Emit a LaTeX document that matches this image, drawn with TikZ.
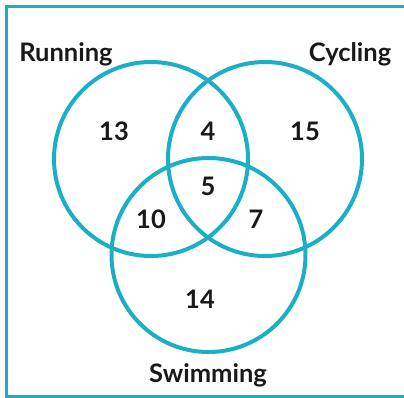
\documentclass[tikz,border=0pt]{standalone}
\usepackage{fontspec}
\setmainfont{Lato}
\usepackage{xcolor}
\usepackage{tikz}
\usetikzlibrary{positioning}

\definecolor{setteal}{HTML}{1AAFC4}

\begin{document}
\begin{tikzpicture}[
    x=1pt, y=-1pt,
    set/.style={circle, draw=setteal, line width=4pt, minimum size=194pt, inner sep=0pt},
    setname/.style={font=\fontsize{25.5}{30}\selectfont\bfseries, text=black!90},
    count/.style={font=\fontsize{25.5}{30}\selectfont\bfseries, text=black!90},
]
\useasboundingbox (0,0) rectangle (404,397);

% Frame
\draw[setteal, line width=3pt] (6.5,6.5) rectangle (410,396.5);

% Sets
\node[set] (run) at (151,159) {};
\node[set] (cyc) at (265,159) {};
\node[set] (swim) at (208.5,255) {};

% Set names
\node[setname] (runname) at (66,54) {Running};
\node[setname] (cycname) at (350,54) {Cycling};
\node[setname] (swimname) at (208,375) {Swimming};

% Counts
\node[count] (onlyrun) at (114,131) {13};
\node[count] (runcyc) at (208,131) {4};
\node[count] (onlycyc) at (305,131) {15};
\node[count] (all) at (208,186) {5};
\node[count] (runswim) at (151,219) {10};
\node[count] (cycswim) at (256,219) {7};
\node[count] (onlyswim) at (200,299) {14};
\end{tikzpicture}
\end{document}
